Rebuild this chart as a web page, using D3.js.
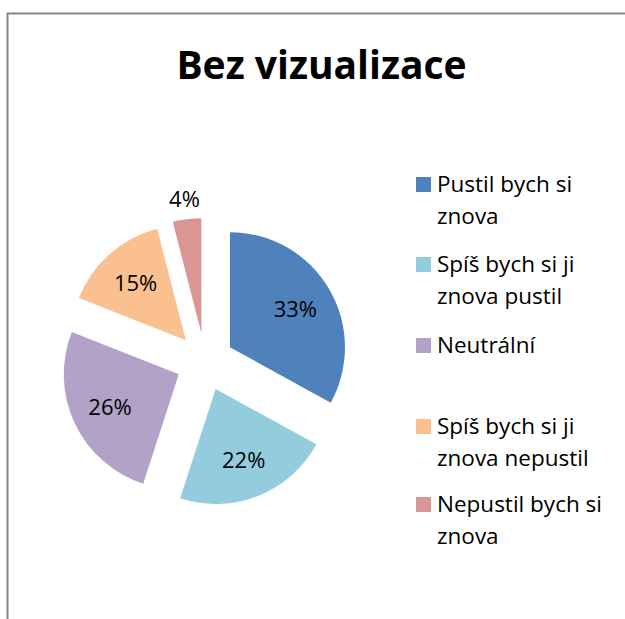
<!DOCTYPE html>
<html><head><meta charset="utf-8">
<script src="https://cdn.jsdelivr.net/npm/d3@7"></script>
<style>body{margin:0;background:#fff}svg{display:block}</style>
</head><body>
<script>
const title = "Bez vizualizace";
const categories = ["Pustil bych si znova","Spíš bych si ji znova pustil","Neutrální","Spíš bych si ji znova nepustil","Nepustil bych si znova"];
const legendLines = [["Pustil bych si","znova"],["Spíš bych si ji","znova pustil"],["Neutrální"],["Spíš bych si ji","znova nepustil"],["Nepustil bych si","znova"]];
const values = [33,22,26,15,4];
const colors = ["#4F81BD","#93CDDD","#B3A2C7","#FAC090","#D99694"];

const W=625,H=619;
const svg=d3.select("body").append("svg").attr("width",W).attr("height",H);
svg.append("rect").attr("width",W).attr("height",H).attr("fill","#fff");
svg.append("path").attr("d",`M7.5,${H} L7.5,13.5 L${W},13.5`).attr("fill","none").attr("stroke","#868686").attr("stroke-width",2);

const font="'Open Sans', sans-serif";
svg.append("text").attr("x",321.5).attr("y",79).attr("text-anchor","middle")
  .attr("font-family",font).attr("font-weight","bold").attr("font-size",39).text(title);

const cx=205,cy=362,r=115,explode=29;
const total=d3.sum(values);
const pie=d3.pie().sort(null).value(d=>d)(values);
const arc=d3.arc().innerRadius(0).outerRadius(r);
const g=svg.append("g").attr("transform",`translate(${cx},${cy})`);
pie.forEach((p,i)=>{
  const mid=(p.startAngle+p.endAngle)/2;
  const dx=Math.sin(mid)*explode, dy=-Math.cos(mid)*explode;
  const s=g.append("g").attr("transform",`translate(${dx},${dy})`);
  s.append("path").attr("d",arc(p)).attr("fill",colors[i]);
  const lr = values[i]/total < 0.06 ? r+20 : 76;
  s.append("text").attr("x",Math.sin(mid)*lr).attr("y",-Math.cos(mid)*lr+8)
   .attr("text-anchor","middle")
   .attr("font-family",font).attr("font-size",22).attr("fill","#000")
   .text(Math.round(values[i]/total*100)+"%");
});

const legY=[192,272,353,434,512];
const lg=svg.append("g");
legendLines.forEach((lines,i)=>{
  lg.append("rect").attr("x",416).attr("y",legY[i]-15).attr("width",15).attr("height",15).attr("fill",colors[i]);
  lines.forEach((t,j)=>{
    lg.append("text").attr("x",437).attr("y",legY[i]+j*32)
      .attr("font-family",font).attr("font-size",22.5).attr("fill","#000").text(t);
  });
});
</script>
</body></html>
